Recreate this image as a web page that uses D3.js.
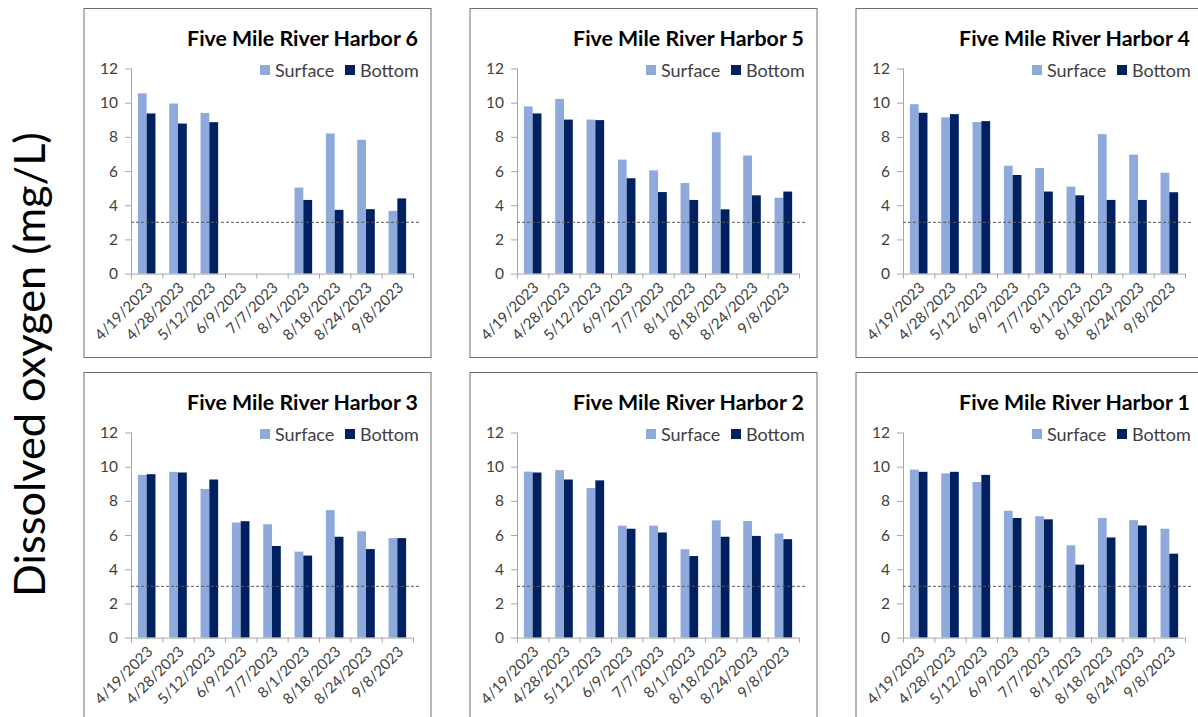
<!DOCTYPE html>
<html>
<head>
<meta charset="utf-8">
<script src="https://cdn.jsdelivr.net/npm/d3@7"></script>
<style>
  body { margin: 0; background: #fff; }
  svg { display: block; font-family: Lato, "Open Sans", sans-serif; }
  .panel-box { fill: #fff; stroke: #6e6e6e; stroke-width: 1; }
  .y.axis path, .y.axis line, .xline { stroke: #a6a6a6; }
  .y.axis text { fill: #404040; font-size: 15.5px; font-family: Lato, sans-serif; }
  .xlab { fill: #404040; font-size: 15px; }
  .title { font-weight: bold; font-size: 21.5px; fill: #000; }
  .legend text { font-size: 18px; fill: #404040; }
</style>
</head>
<body>
<div id="chart"></div>
<script>
var dates = ["4/19/2023", "4/28/2023", "5/12/2023", "6/9/2023", "7/7/2023", "8/1/2023", "8/18/2023", "8/24/2023", "9/8/2023"];
var seriesNames = ["Surface", "Bottom"];
var colors = { Surface: "#8eaadb", Bottom: "#002060" };
var threshold = 3;
var yTicks = [0, 2, 4, 6, 8, 10, 12];

var harbor6Surface = [10.55, 9.95, 9.4, null, null, 5.03, 8.2, 7.83, 3.67];
var harbor6Bottom  = [9.37, 8.78, 8.86, null, null, 4.31, 3.73, 3.77, 4.4];
var harbor5Surface = [9.78, 10.22, 9.01, 6.67, 6.04, 5.3, 8.27, 6.91, 4.44];
var harbor5Bottom  = [9.37, 9.01, 8.98, 5.58, 4.77, 4.31, 3.76, 4.58, 4.8];
var harbor4Surface = [9.91, 9.14, 8.87, 6.31, 6.18, 5.09, 8.16, 6.96, 5.9];
var harbor4Bottom  = [9.41, 9.33, 8.92, 5.77, 4.8, 4.58, 4.31, 4.31, 4.76];
var harbor3Surface = [9.52, 9.7, 8.7, 6.73, 6.63, 5.03, 7.46, 6.22, 5.82];
var harbor3Bottom  = [9.56, 9.66, 9.25, 6.81, 5.36, 4.8, 5.9, 5.18, 5.82];
var harbor2Surface = [9.71, 9.8, 8.75, 6.55, 6.55, 5.17, 6.86, 6.82, 6.09];
var harbor2Bottom  = [9.66, 9.25, 9.2, 6.37, 6.15, 4.77, 5.9, 5.95, 5.76];
var harbor1Surface = [9.83, 9.61, 9.1, 7.42, 7.1, 5.4, 7.0, 6.87, 6.37];
var harbor1Bottom  = [9.7, 9.7, 9.52, 7.0, 6.92, 4.27, 5.86, 6.56, 4.91];

var panels = [
  { title: "Five Mile River Harbor 6", Surface: harbor6Surface, Bottom: harbor6Bottom },
  { title: "Five Mile River Harbor 5", Surface: harbor5Surface, Bottom: harbor5Bottom },
  { title: "Five Mile River Harbor 4", Surface: harbor4Surface, Bottom: harbor4Bottom },
  { title: "Five Mile River Harbor 3", Surface: harbor3Surface, Bottom: harbor3Bottom },
  { title: "Five Mile River Harbor 2", Surface: harbor2Surface, Bottom: harbor2Bottom },
  { title: "Five Mile River Harbor 1", Surface: harbor1Surface, Bottom: harbor1Bottom }
];

var W = 1198, H = 717;
var axisX = [131, 517, 903];
var rowTop = [8, 372];
var plotW = 282;

var svg = d3.select("#chart").append("svg")
  .attr("width", W)
  .attr("height", H);

// shrink/grow a text node's font so it spans a given width
function fitText(sel, size, target) {
  sel.style("font-size", size + "px");
  var len = sel.node().getComputedTextLength();
  sel.style("font-size", (size * target / len) + "px");
}

// big shared y label
var ylab = svg.append("text")
  .attr("transform", "translate(45,364.5) rotate(-90)")
  .attr("text-anchor", "middle")
  .style("fill", "#000")
  .text("Dissolved oxygen (mg/L)");
fitText(ylab, 44, 465);

var x = d3.scaleBand().domain(dates).range([0, plotW]);
var xInner = d3.scaleBand().domain(seriesNames).range([0, x.bandwidth()]).paddingOuter(0.78);
var y = d3.scaleLinear().domain([0, 12]).range([265.6, 60.5]);

panels.forEach(function (p, i) {
  var col = i % 3, row = Math.floor(i / 3);
  var top = rowTop[row];
  var ax = axisX[col];

  svg.append("rect")
    .attr("class", "panel-box")
    .attr("x", ax - 47.5 + 0.5)
    .attr("y", top + 0.5)
    .attr("width", 347)
    .attr("height", row === 0 ? 349 : 360);

  var g = svg.append("g").attr("transform", "translate(" + ax + "," + top + ")");

  // bars
  seriesNames.forEach(function (s) {
    g.selectAll(".bar-" + s)
      .data(dates.map(function (d, k) { return { date: d, v: p[s][k] }; }).filter(function (d) { return d.v != null; }))
      .enter().append("rect")
      .attr("x", function (d) { return x(d.date) + xInner(s); })
      .attr("width", xInner.bandwidth())
      .attr("y", function (d) { return y(d.v); })
      .attr("height", function (d) { return y(0) - y(d.v); })
      .attr("fill", colors[s]);
  });

  // y axis
  g.append("g")
    .attr("class", "y axis")
    .call(d3.axisLeft(y).tickValues(yTicks).tickSize(6).tickSizeOuter(0).tickPadding(7));
  g.select(".y.axis .domain").attr("d", "M0.5," + y(0) + "V" + y(12));

  // x axis line and boundary ticks
  g.append("line").attr("class", "xline")
    .attr("x1", 0).attr("x2", plotW)
    .attr("y1", y(0) + 0.5).attr("y2", y(0) + 0.5);
  g.selectAll(".xtick")
    .data(dates.concat(["end"]))
    .enter().append("line")
    .attr("class", "xline")
    .attr("x1", function (d) { return (d === "end" ? plotW : x(d)) + 0.5; })
    .attr("x2", function (d) { return (d === "end" ? plotW : x(d)) + 0.5; })
    .attr("y1", y(0)).attr("y2", y(0) + 5);

  g.selectAll(".xlab")
    .data(dates)
    .enter().append("text")
    .attr("class", "xlab")
    .attr("text-anchor", "end")
    .attr("transform", function (d) {
      return "translate(" + (x(d) + x.bandwidth() / 2 + 7) + "," + (y(0) + 15) + ") rotate(-45)";
    })
    .text(function (d) { return d; });

  // threshold line
  g.append("line")
    .attr("x1", 0).attr("x2", plotW + 7)
    .attr("y1", y(threshold)).attr("y2", y(threshold))
    .attr("stroke", "#595959")
    .attr("stroke-dasharray", "3,2");

  // title
  var t = g.append("text")
    .attr("class", "title")
    .attr("x", 287).attr("y", 38)
    .attr("text-anchor", "end")
    .text(p.title);
  fitText(t, 21.5, 231);

  // legend
  var lg = g.append("g").attr("class", "legend");
  var lx = [129, 214];
  seriesNames.forEach(function (s, k) {
    lg.append("rect")
      .attr("x", lx[k]).attr("y", 57)
      .attr("width", 10).attr("height", 10)
      .attr("fill", colors[s]);
    lg.append("text")
      .attr("x", lx[k] + 15).attr("y", 68.5)
      .text(s);
  });
});
</script>
</body>
</html>
